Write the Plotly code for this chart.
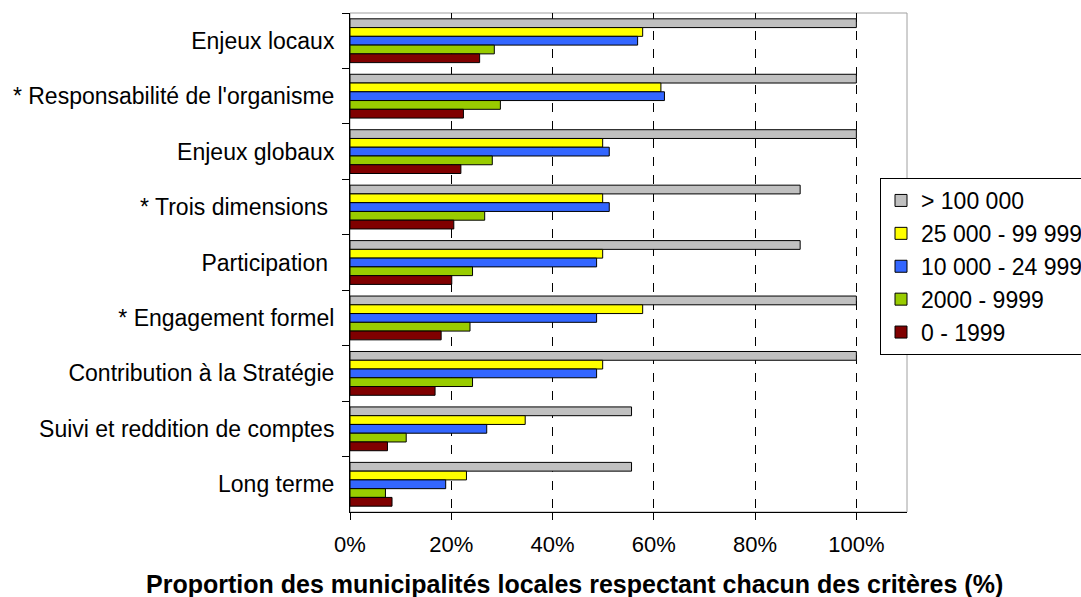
import plotly.graph_objects as go

categories = [
    "Enjeux locaux",
    "* Responsabilité de l'organisme",
    "Enjeux globaux",
    "* Trois dimensions\u00a0",
    "Participation\u00a0",
    "* Engagement formel",
    "Contribution à la Stratégie",
    "Suivi et reddition de comptes",
    "Long terme",
]

series_names = ["> 100 000", "25 000 - 99 999", "10 000 - 24 999", "2000 - 9999", "0 - 1999"]
vals_100k = [100, 100, 100, 88.9, 88.9, 100, 100, 55.6, 55.6]
vals_25k = [57.8, 61.4, 49.9, 49.9, 49.9, 57.8, 49.9, 34.6, 23.0]
vals_10k = [56.8, 62.1, 51.2, 51.2, 48.7, 48.7, 48.7, 27.0, 18.9]
vals_2k = [28.5, 29.7, 28.1, 26.6, 24.2, 23.7, 24.2, 11.1, 7.0]
vals_0 = [25.6, 22.4, 21.9, 20.5, 20.1, 18.0, 16.8, 7.4, 8.3]

colors = ["#C0C0C0", "#FFFF00", "#3366FF", "#99CC00", "#800000"]
all_vals = [vals_100k, vals_25k, vals_10k, vals_2k, vals_0]

x_ticks = [0, 20, 40, 60, 80, 100]
x_tick_labels = ["0%", "20%", "40%", "60%", "80%", "100%"]

FONT = "Liberation Sans, Arial, sans-serif"

fig = go.Figure()
for name, vals, col in zip(series_names, all_vals, colors):
    fig.add_trace(go.Bar(
        y=categories, x=vals, name=name, orientation="h",
        marker=dict(color=col, line=dict(color="#000000", width=1)),
    ))

L, R, T, B = 350, 174, 13, 85
W, H = 1081, 597

fig.update_layout(
    width=W, height=H,
    margin=dict(l=L, r=R, t=T, b=B, pad=0, autoexpand=False),
    paper_bgcolor="white", plot_bgcolor="white",
    barmode="group", bargap=0.21, bargroupgap=0,
    font=dict(family=FONT, color="black", size=22),
    showlegend=True,
    legend=dict(
        x=(880 - L) / (W - L - R), y=(H - B - 178) / (H - T - B),
        xanchor="left", yanchor="top",
        bgcolor="white", bordercolor="#000000", borderwidth=1,
        font=dict(size=23, family=FONT, color="black"),
        traceorder="normal", tracegroupgap=0, itemwidth=30,
    ),
    xaxis=dict(
        range=[0, 110], tickvals=x_ticks, ticktext=x_tick_labels,
        showgrid=True, gridcolor="black", griddash="dash", gridwidth=1,
        zeroline=False, showline=True, linecolor="black", linewidth=1,
        ticks="outside", ticklen=7, tickcolor="black",
        tickfont=dict(size=22, family=FONT, color="black"),
        ticklabelstandoff=6,
    ),
    yaxis=dict(
        autorange="reversed", type="category",
        showgrid=False, zeroline=False, showline=True, linecolor="black", linewidth=1,
        ticks="outside", ticklen=7, tickcolor="black", tickson="boundaries",
        tickfont=dict(size=23, family=FONT, color="black"),
        ticklabelstandoff=10,
    ),
    shapes=[dict(type="rect", xref="paper", yref="paper", x0=0, x1=1, y0=0, y1=1,
                 line=dict(color="#A0A0A0", width=1), layer="below")],
    annotations=[dict(
        text="<b>Proportion des municipalités locales respectant chacun des critères (%)</b>",
        xref="paper", yref="paper", x=(574 - L) / (W - L - R), y=-(584 - (H - B)) / (H - T - B),
        xanchor="center", yanchor="middle", showarrow=False,
        font=dict(size=25, family=FONT, color="black"),
    )],
)

fig.write_html("out.html", config={"displayModeBar": False},
               post_script="document.body.style.margin='0';document.body.style.overflow='hidden';")
